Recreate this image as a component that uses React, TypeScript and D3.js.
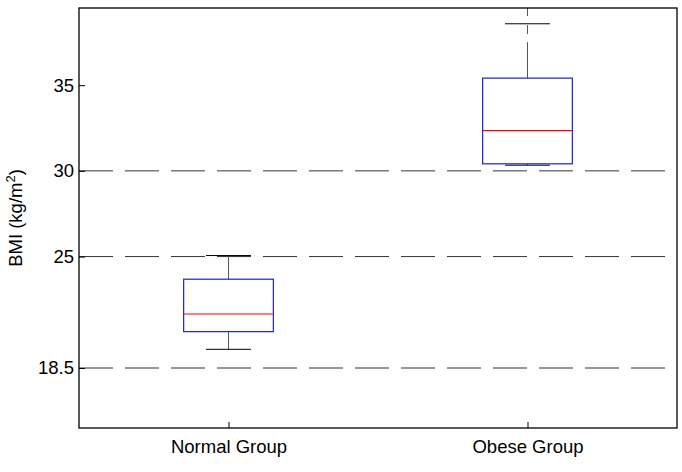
import * as d3 from 'd3';
import { useEffect, useRef } from 'react';

const groups = ['Normal Group', 'Obese Group'];
const whiskerLow = [19.59, 30.33];
const q1 = [20.62, 30.41];
const median = [21.65, 32.35];
const q3 = [23.68, 35.41];
const whiskerHigh = [25.06, 38.58];
// end of the upper whisker line (the obese one runs past the top of the axes)
const whiskerLineEnd = [25.06, 41];

const cutoffs = [18.5, 25, 30];
const yTicks = [18.5, 25, 30, 35];
const yDomain: [number, number] = [15, 39.5];

const font = '"Liberation Sans", Arial, sans-serif';
const fontSize = 18.5;

const App = () => {
  const ref = useRef<SVGSVGElement | null>(null);
  const width = 682;
  const height = 472;
  const margin = { left: 79, right: 5, top: 8, bottom: 44 };

  useEffect(() => {
    document.body.style.margin = '0';
    if (!ref.current) return;
    const svg = d3.select(ref.current);
    svg.selectAll('*').remove();

    const x = d3
      .scaleLinear()
      .domain([0.5, groups.length + 0.5])
      .range([margin.left, width - margin.right]);
    const y = d3
      .scaleLinear()
      .domain(yDomain)
      .range([height - margin.bottom, margin.top]);

    const boxW = 0.3;
    const capW = 0.15;

    svg
      .append('defs')
      .append('clipPath')
      .attr('id', 'plot-clip')
      .append('rect')
      .attr('x', margin.left)
      .attr('y', margin.top)
      .attr('width', width - margin.left - margin.right)
      .attr('height', height - margin.top - margin.bottom);

    const plot = svg.append('g').attr('clip-path', 'url(#plot-clip)');

    // BMI cut-off lines
    plot
      .selectAll('line.cutoff')
      .data(cutoffs)
      .join('line')
      .attr('class', 'cutoff')
      .attr('x1', margin.left)
      .attr('x2', width - margin.right)
      .attr('y1', (d) => y(d))
      .attr('y2', (d) => y(d))
      .attr('stroke', '#333')
      .attr('stroke-width', 1)
      .attr('stroke-dasharray', '34,12');

    const boxes = plot
      .selectAll('g.box')
      .data(groups.map((g, i) => ({ g, i, pos: i + 1 })))
      .join('g')
      .attr('class', 'box');

    // whiskers
    boxes
      .append('line')
      .attr('x1', (d) => x(d.pos))
      .attr('x2', (d) => x(d.pos))
      .attr('y1', (d) => y(q3[d.i]))
      .attr('y2', (d) => y(whiskerLineEnd[d.i]))
      .attr('stroke', '#555')
      .attr('stroke-dasharray', '36,8,9,9');
    boxes
      .append('line')
      .attr('x1', (d) => x(d.pos))
      .attr('x2', (d) => x(d.pos))
      .attr('y1', (d) => y(q1[d.i]))
      .attr('y2', (d) => y(whiskerLow[d.i]))
      .attr('stroke', '#555');

    // caps
    [whiskerHigh, whiskerLow].forEach((vals) => {
      boxes
        .append('line')
        .attr('x1', (d) => x(d.pos - capW / 2))
        .attr('x2', (d) => x(d.pos + capW / 2))
        .attr('y1', (d) => y(vals[d.i]))
        .attr('y2', (d) => y(vals[d.i]))
        .attr('stroke', '#000');
    });

    boxes
      .append('rect')
      .attr('x', (d) => x(d.pos - boxW / 2))
      .attr('width', (d) => x(d.pos + boxW / 2) - x(d.pos - boxW / 2))
      .attr('y', (d) => y(q3[d.i]))
      .attr('height', (d) => y(q1[d.i]) - y(q3[d.i]))
      .attr('fill', 'none')
      .attr('stroke', '#2020d0')
      .attr('stroke-width', 1.2);

    boxes
      .append('line')
      .attr('x1', (d) => x(d.pos - boxW / 2))
      .attr('x2', (d) => x(d.pos + boxW / 2))
      .attr('y1', (d) => y(median[d.i]))
      .attr('y2', (d) => y(median[d.i]))
      .attr('stroke', '#f00')
      .attr('stroke-width', 1.2);

    // frame
    svg
      .append('rect')
      .attr('x', margin.left)
      .attr('y', margin.top)
      .attr('width', width - margin.left - margin.right)
      .attr('height', height - margin.top - margin.bottom)
      .attr('fill', 'none')
      .attr('stroke', '#000')
      .attr('stroke-width', 1.3);

    const yAxis = svg
      .append('g')
      .attr('transform', `translate(${margin.left},0)`)
      .call(
        d3
          .axisLeft(y)
          .tickValues(yTicks)
          .tickSizeInner(-6)
          .tickSizeOuter(0)
          .tickPadding(5)
          .tickFormat((d) => String(d))
      );
    yAxis.select('.domain').remove();
    yAxis.selectAll('.tick line').attr('stroke', '#000');
    yAxis
      .selectAll('.tick text')
      .attr('font-family', font)
      .attr('font-size', fontSize)
      .attr('fill', '#000');

    const xAxis = svg
      .append('g')
      .attr('transform', `translate(0,${height - margin.bottom})`)
      .call(
        d3
          .axisBottom(x)
          .tickValues(groups.map((_, i) => i + 1))
          .tickSizeInner(-6)
          .tickSizeOuter(0)
          .tickPadding(12)
          .tickFormat((d) => groups[Number(d) - 1])
      );
    xAxis.select('.domain').remove();
    xAxis.selectAll('.tick line').attr('stroke', '#000');
    xAxis
      .selectAll('.tick text')
      .attr('font-family', font)
      .attr('font-size', fontSize)
      .attr('fill', '#000');

    const yLabel = svg
      .append('text')
      .attr('transform', `translate(22,${(margin.top + height - margin.bottom) / 2}) rotate(-90)`)
      .attr('text-anchor', 'middle')
      .attr('font-family', font)
      .attr('font-size', fontSize)
      .attr('fill', '#000');
    yLabel.append('tspan').text('BMI (kg/m');
    yLabel.append('tspan').attr('font-size', 13).attr('dy', -7).text('2');
    yLabel.append('tspan').attr('dy', 7).text(')');
  }, []);

  return (
    <svg
      ref={ref}
      width={width}
      height={height}
      style={{ display: 'block', background: '#fff' }}
    />
  );
};

export default App;
